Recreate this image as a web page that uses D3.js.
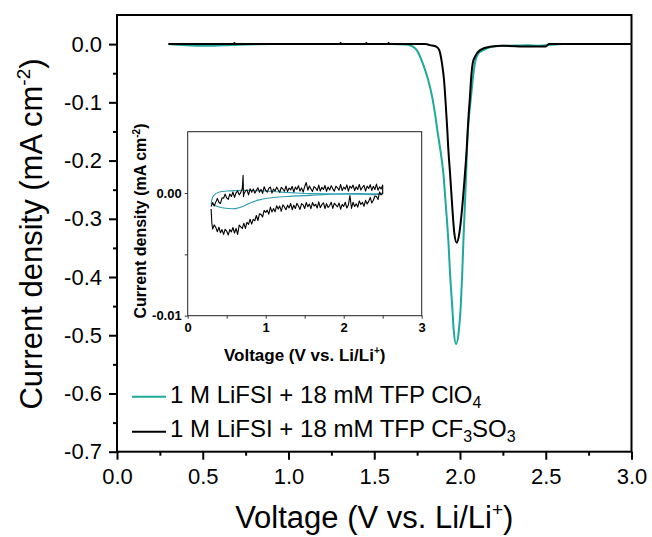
<!DOCTYPE html>
<html>
<head>
<meta charset="utf-8">
<script src="https://cdn.jsdelivr.net/npm/d3@7"></script>
<style>
  body { margin: 0; background: #fff; }
  svg { display: block; }
  text { font-family: "Liberation Sans", Arial, Helvetica, sans-serif; fill: #000; }
</style>
</head>
<body>
<svg id="chart" width="652" height="537"></svg>
<script>
// ---------- Main panel: linear sweep, current density vs voltage ----------
const mainXTicks = [0, 0.5, 1.0, 1.5, 2.0, 2.5, 3.0];
const mainXMinor = [0.25, 0.75, 1.25, 1.75, 2.25, 2.75];
const mainYTicks = [0, -0.1, -0.2, -0.3, -0.4, -0.5, -0.6, -0.7];
const mainYMinor = [-0.05, -0.15, -0.25, -0.35, -0.45, -0.55, -0.65];

// [voltage (V vs. Li/Li+), current density (mA cm^-2)]
const clo4Main = [
  [0.30, 0], [0.40, -0.002], [0.52, -0.003], [0.62, -0.002], [0.75, -0.0005], [0.90, 0], [1.20, 0], [1.60, 0],
  [1.68, -0.0008], [1.708, -0.002], [1.748, -0.0103], [1.783, -0.033], [1.815, -0.062],
  [1.838, -0.091], [1.854, -0.119], [1.868, -0.148], [1.883, -0.177], [1.903, -0.222],
  [1.918, -0.280], [1.932, -0.337], [1.942, -0.394], [1.955, -0.452], [1.963, -0.490],
  [1.977, -0.515], [1.994, -0.490], [2.004, -0.452], [2.013, -0.394], [2.020, -0.337],
  [2.028, -0.280], [2.036, -0.222], [2.041, -0.177], [2.046, -0.148], [2.054, -0.119],
  [2.064, -0.091], [2.074, -0.062], [2.087, -0.033], [2.107, -0.016], [2.136, -0.0103],
  [2.18, -0.005], [2.25, -0.003], [2.40, -0.002], [2.45, -0.003], [2.50, -0.002],
  [2.60, 0], [3.00, 0]
];
const cf3so3Main = [
  [0.30, 0], [0.68, 0], [0.684, 0.002], [0.688, 0], [1.10, 0], [1.30, 0], [1.304, 0.002],
  [1.308, 0], [1.45, 0], [1.454, 0.002], [1.458, 0], [1.58, 0], [1.584, 0.002], [1.588, 0],
  [1.80, 0], [1.825, -0.0017], [1.864, -0.0046],
  [1.879, -0.0103], [1.895, -0.0332], [1.907, -0.062], [1.914, -0.0905], [1.920, -0.119],
  [1.926, -0.148], [1.931, -0.176], [1.942, -0.222], [1.955, -0.280], [1.967, -0.325],
  [1.981, -0.341], [1.996, -0.325], [2.013, -0.280], [2.029, -0.222], [2.040, -0.176],
  [2.045, -0.148], [2.051, -0.119], [2.058, -0.0905], [2.064, -0.062], [2.074, -0.033],
  [2.087, -0.0218], [2.117, -0.0103], [2.175, -0.0046], [2.25, -0.003], [2.40, -0.004],
  [2.50, -0.004], [2.52, 0], [3.00, 0]
];

// ---------- Inset: cyclic sweep 0.3 - 2.5 V, enlarged current scale ----------
const insetXTicks = [0, 1, 2, 3];
const insetXMinor = [0.5, 1.5, 2.5];
const insetYTicks = [0, -0.01];
const insetYMinor = [-0.005];

const clo4Inset = [
  [0.30, -0.00088], [0.32, -0.00035], [0.36, -0.00005], [0.42, 0.00010], [0.50, 0.00016],
  [0.60, 0.00020], [0.75, 0.00022], [0.95, 0.00018], [1.18, 0.00008], [1.40, 0.00000],
  [1.57, -0.00005], [1.90, -0.00006], [2.20, -0.00005], [2.47, -0.00004], [2.50, 0.00000],
  [2.47, -0.00010], [2.20, -0.00010], [1.87, -0.00010], [1.57, -0.00019], [1.31, -0.00027],
  [1.10, -0.00037], [0.93, -0.00054], [0.80, -0.00081], [0.69, -0.00114], [0.61, -0.00127],
  [0.46, -0.00122], [0.36, -0.00105], [0.30, -0.00088]
];
// anodic sweep 0.3 -> 2.5 V
const cf3so3InsetUp = [
  [0.30, -0.00110], [0.32, -0.00077], [0.34, -0.00106], [0.36, -0.00074], [0.38, -0.00044],
  [0.40, -0.00075], [0.42, -0.00085], [0.44, -0.00039], [0.46, -0.00042], [0.48, -0.00009],
  [0.50, -0.00040], [0.52, -0.00052], [0.54, -0.00008], [0.56, -0.00028], [0.58, 0.00008],
  [0.60, -0.00036], [0.62, 0.00002], [0.64, 0.00017], [0.66, -0.00015], [0.68, 0.00003],
  [0.70, 0.00037], [0.71, 0.00145], [0.715, -0.00030], [0.72, -0.00011], [0.74, 0.00017],
  [0.76, 0.00026], [0.78, -0.00015], [0.80, 0.00035], [0.82, 0.00007], [0.84, 0.00033],
  [0.86, -0.00001], [0.88, 0.00020], [0.90, 0.00044], [0.92, 0.00006], [0.94, 0.00030],
  [0.96, -0.00003], [0.98, 0.00051], [1.00, 0.00021], [1.02, 0.00007], [1.04, 0.00038],
  [1.06, 0.00049], [1.08, 0.00000], [1.10, 0.00033], [1.12, 0.00017], [1.14, 0.00048],
  [1.16, 0.00026], [1.18, 0.00006], [1.20, 0.00047], [1.22, 0.00033], [1.24, 0.00015],
  [1.26, 0.00057], [1.28, 0.00012], [1.30, 0.00041], [1.32, 0.00025], [1.34, 0.00055],
  [1.36, 0.00008], [1.38, 0.00048], [1.40, 0.00030], [1.42, 0.00060], [1.44, 0.00016],
  [1.46, 0.00042], [1.48, 0.00007], [1.50, 0.00053], [1.52, 0.00086], [1.54, 0.00023],
  [1.56, 0.00057], [1.58, 0.00034], [1.60, 0.00013], [1.62, 0.00052], [1.64, 0.00041],
  [1.66, 0.00020], [1.68, 0.00065], [1.70, 0.00016], [1.72, 0.00047], [1.74, 0.00029],
  [1.76, 0.00062], [1.78, 0.00013], [1.80, 0.00050], [1.82, 0.00025], [1.84, 0.00060],
  [1.86, 0.00034], [1.88, 0.00015], [1.90, 0.00057], [1.92, 0.00043], [1.94, 0.00023],
  [1.96, 0.00070], [1.98, 0.00020], [2.00, 0.00048], [2.02, 0.00032], [2.04, 0.00066],
  [2.06, 0.00015], [2.08, 0.00056], [2.10, 0.00039], [2.12, 0.00065], [2.14, 0.00020],
  [2.16, 0.00051], [2.18, 0.00029], [2.20, 0.00070], [2.22, 0.00024], [2.24, 0.00047],
  [2.26, 0.00063], [2.28, 0.00016], [2.30, 0.00057], [2.32, 0.00037], [2.34, 0.00068],
  [2.36, 0.00021], [2.38, 0.00055], [2.40, 0.00029], [2.42, 0.00073], [2.44, 0.00023],
  [2.46, 0.00050], [2.48, 0.00033], [2.50, 0.00065]
];
// cathodic sweep 2.5 -> 0.3 V
const cf3so3InsetDown = [
  [2.50, -0.00005], [2.48, -0.00015], [2.46, 0.00009], [2.44, -0.00053], [2.42, -0.00029],
  [2.40, -0.00024], [2.38, -0.00059], [2.36, -0.00080], [2.34, -0.00036], [2.32, -0.00068],
  [2.30, -0.00090], [2.28, -0.00059], [2.26, -0.00108], [2.24, -0.00075], [2.22, -0.00094],
  [2.20, -0.00064], [2.18, -0.00115], [2.16, -0.00088], [2.14, -0.00110], [2.12, -0.00075],
  [2.10, -0.00126], [2.08, -0.00020], [2.06, -0.00097], [2.04, -0.00122], [2.02, -0.00075],
  [2.00, -0.00109], [1.98, -0.00092], [1.96, -0.00132], [1.94, -0.00081], [1.92, -0.00113],
  [1.90, -0.00098], [1.88, -0.00083], [1.86, -0.00125], [1.84, -0.00075], [1.82, -0.00102],
  [1.80, -0.00118], [1.78, -0.00086], [1.76, -0.00126], [1.74, -0.00079], [1.72, -0.00095],
  [1.70, -0.00119], [1.68, -0.00072], [1.66, -0.00122], [1.64, -0.00091], [1.62, -0.00106],
  [1.60, -0.00078], [1.58, -0.00128], [1.56, -0.00089], [1.54, -0.00112], [1.52, -0.00077],
  [1.50, -0.00126], [1.48, -0.00097], [1.46, -0.00086], [1.44, -0.00134], [1.42, -0.00105],
  [1.40, -0.00084], [1.38, -0.00126], [1.36, -0.00099], [1.34, -0.00136], [1.32, -0.00085],
  [1.30, -0.00121], [1.28, -0.00099], [1.26, -0.00136], [1.24, -0.00113], [1.22, -0.00096],
  [1.20, -0.00149], [1.18, -0.00106], [1.16, -0.00131], [1.14, -0.00104], [1.12, -0.00153],
  [1.10, -0.00127], [1.08, -0.00154], [1.06, -0.00115], [1.04, -0.00173], [1.02, -0.00139],
  [1.00, -0.00158], [0.98, -0.00142], [0.96, -0.00196], [0.94, -0.00174], [0.92, -0.00170],
  [0.90, -0.00224], [0.88, -0.00183], [0.86, -0.00226], [0.84, -0.00215], [0.82, -0.00253],
  [0.80, -0.00214], [0.78, -0.00256], [0.76, -0.00238], [0.74, -0.00288], [0.72, -0.00246],
  [0.70, -0.00289], [0.68, -0.00276], [0.66, -0.00262], [0.64, -0.00337], [0.62, -0.00288],
  [0.60, -0.00326], [0.58, -0.00281], [0.56, -0.00317], [0.54, -0.00298], [0.52, -0.00342],
  [0.50, -0.00311], [0.48, -0.00295], [0.46, -0.00337], [0.44, -0.00298], [0.42, -0.00323],
  [0.40, -0.00279], [0.38, -0.00316], [0.36, -0.00280], [0.34, -0.00260], [0.32, -0.00294],
  [0.31, -0.00246], [0.305, -0.00190], [0.30, -0.00130]
];

const legendLabels = ["1 M LiFSI + 18 mM TFP ClO", "1 M LiFSI + 18 mM TFP CF"];
const colors = { clo4: "#1ea99b", clo4Inset: "#2b9db0", cf3so3: "#000000" };

// ---------- drawing ----------
const svg = d3.select("#chart");
const FONT = '"Liberation Sans", Arial, Helvetica, sans-serif';
// plain hyphen for negative numbers
const fmt = spec => { const f = d3.format(spec); return d => f(d).replace("\u2212", "-"); };

const plot = { left: 117, right: 631.5, top: 15, bottom: 451.7 };
const x = d3.scaleLinear().domain([0, 3]).range([plot.left, plot.right]);
const y = d3.scaleLinear().domain([-0.7, 0.05]).range([plot.bottom, plot.top]);

function styleAxis(g, size, weight) {
  g.select(".domain").remove();
  g.selectAll("line").attr("stroke", "#000").attr("stroke-width", weight);
  g.selectAll("text").attr("font-family", FONT).attr("font-size", size).attr("fill", "#000");
}

// x axis (major + minor)
svg.append("g").attr("transform", `translate(0,${plot.bottom})`)
  .call(d3.axisBottom(x).tickValues(mainXTicks).tickSize(8).tickSizeOuter(0)
    .tickPadding(8.5).tickFormat(fmt(".1f")))
  .call(g => styleAxis(g, 22, 2));
svg.append("g").attr("transform", `translate(0,${plot.bottom})`)
  .call(d3.axisBottom(x).tickValues(mainXMinor).tickSize(4).tickSizeOuter(0).tickFormat(""))
  .call(g => styleAxis(g, 22, 2));

// y axis (major + minor)
svg.append("g").attr("transform", `translate(${plot.left},0)`)
  .call(d3.axisLeft(y).tickValues(mainYTicks).tickSize(8).tickSizeOuter(0)
    .tickPadding(7).tickFormat(fmt(".1f")))
  .call(g => styleAxis(g, 22, 2));
svg.append("g").attr("transform", `translate(${plot.left},0)`)
  .call(d3.axisLeft(y).tickValues(mainYMinor).tickSize(4).tickSizeOuter(0).tickFormat(""))
  .call(g => styleAxis(g, 22, 2));

// frame
svg.append("rect")
  .attr("x", plot.left).attr("y", plot.top)
  .attr("width", plot.right - plot.left).attr("height", plot.bottom - plot.top)
  .attr("fill", "none").attr("stroke", "#000").attr("stroke-width", 2);

// curves
const mainLine = d3.line().x(d => x(d[0])).y(d => y(d[1])).curve(d3.curveMonotoneX);
svg.append("path").datum(clo4Main).attr("d", mainLine)
  .attr("fill", "none").attr("stroke", colors.clo4).attr("stroke-width", 2).attr("stroke-linejoin", "round");
svg.append("path").datum(cf3so3Main).attr("d", mainLine)
  .attr("fill", "none").attr("stroke", colors.cf3so3).attr("stroke-width", 2).attr("stroke-linejoin", "round");

// axis titles
svg.append("text")
  .attr("x", (plot.left + plot.right) / 2).attr("y", 527.7)
  .attr("text-anchor", "middle").attr("font-size", 31)
  .call(t => {
    t.append("tspan").text("Voltage (V vs. Li/Li");
    t.append("tspan").attr("dy", -12).attr("font-size", 19).text("+");
    t.append("tspan").attr("dy", 12).text(")");
  });

svg.append("text")
  .attr("transform", "translate(42,234) rotate(-90)")
  .attr("text-anchor", "middle").attr("font-size", 31)
  .call(t => {
    t.append("tspan").text("Current density (mA cm");
    t.append("tspan").attr("dy", -12).attr("font-size", 19).text("-2");
    t.append("tspan").attr("dy", 12).text(")");
  });

// legend
const legendRows = [
  { label: legendLabels[0], color: colors.clo4, lineY: 396.7, baseY: 402.7, subs: ["4"] },
  { label: legendLabels[1], color: colors.cf3so3, lineY: 431.7, baseY: 436.5, subs: ["3", "SO", "3"] }
];
legendRows.forEach(r => {
  svg.append("line").attr("x1", 132).attr("x2", 166).attr("y1", r.lineY).attr("y2", r.lineY)
    .attr("stroke", r.color).attr("stroke-width", 2);
  const t = svg.append("text").attr("x", 170).attr("y", r.baseY).attr("font-size", 24);
  t.append("tspan").text(r.label);
  t.append("tspan").attr("dy", 5).attr("font-size", 16).text(r.subs[0]);
  if (r.subs.length > 1) {
    t.append("tspan").attr("dy", -5).attr("font-size", 24).text(r.subs[1]);
    t.append("tspan").attr("dy", 5).attr("font-size", 16).text(r.subs[2]);
  }
});

// ---------- inset ----------
const ins = { left: 187.7, right: 421.7, top: 131.7, bottom: 315.7 };
const xi = d3.scaleLinear().domain([0, 3]).range([ins.left, ins.right]);
const yi = d3.scaleLinear().domain([-0.01, 0.005]).range([ins.bottom, ins.top]);

svg.append("rect")
  .attr("x", ins.left).attr("y", ins.top)
  .attr("width", ins.right - ins.left).attr("height", ins.bottom - ins.top)
  .attr("fill", "#fff").attr("stroke", "#222").attr("stroke-width", 1);

function styleInset(g) {
  g.select(".domain").remove();
  g.selectAll("line").attr("stroke", "#333").attr("stroke-width", 1);
  g.selectAll("text").attr("font-family", FONT).attr("font-size", 13)
    .attr("font-weight", "bold").attr("fill", "#000");
}
svg.append("g").attr("transform", `translate(0,${ins.bottom})`)
  .call(d3.axisBottom(xi).tickValues(insetXTicks).tickSize(3).tickSizeOuter(0)
    .tickPadding(4.5).tickFormat(fmt("d")))
  .call(styleInset);
svg.append("g").attr("transform", `translate(0,${ins.bottom})`)
  .call(d3.axisBottom(xi).tickValues(insetXMinor).tickSize(3).tickSizeOuter(0).tickFormat(""))
  .call(styleInset);
svg.append("g").attr("transform", `translate(${ins.left},0)`)
  .call(d3.axisLeft(yi).tickValues(insetYTicks).tickSize(3).tickSizeOuter(0)
    .tickPadding(3).tickFormat(fmt(".2f")))
  .call(styleInset);
svg.append("g").attr("transform", `translate(${ins.left},0)`)
  .call(d3.axisLeft(yi).tickValues(insetYMinor).tickSize(3).tickSizeOuter(0).tickFormat(""))
  .call(styleInset);

const insetSmooth = d3.line().x(d => xi(d[0])).y(d => yi(d[1])).curve(d3.curveCatmullRom.alpha(0.5));
const insetRaw = d3.line().x(d => xi(d[0])).y(d => yi(d[1]));
svg.append("path").datum(clo4Inset).attr("d", insetSmooth)
  .attr("fill", "none").attr("stroke", colors.clo4Inset).attr("stroke-width", 1.1);
svg.append("path").datum(cf3so3InsetUp.concat(cf3so3InsetDown)).attr("d", insetRaw)
  .attr("fill", "none").attr("stroke", colors.cf3so3).attr("stroke-width", 1.1)
  .attr("stroke-linejoin", "round");

svg.append("text")
  .attr("x", (ins.left + ins.right) / 2).attr("y", 360.7)
  .attr("text-anchor", "middle").attr("font-size", 17).attr("font-weight", "bold")
  .call(t => {
    t.append("tspan").text("Voltage (V vs. Li/Li");
    t.append("tspan").attr("dy", -7).attr("font-size", 10).text("+");
    t.append("tspan").attr("dy", 7).text(")");
  });
svg.append("text")
  .attr("transform", "translate(146,221) rotate(-90)")
  .attr("text-anchor", "middle").attr("font-size", 16).attr("font-weight", "bold")
  .call(t => {
    t.append("tspan").text("Current density (mA cm");
    t.append("tspan").attr("dy", -6).attr("font-size", 10).text("-2");
    t.append("tspan").attr("dy", 6).text(")");
  });
</script>
</body>
</html>
